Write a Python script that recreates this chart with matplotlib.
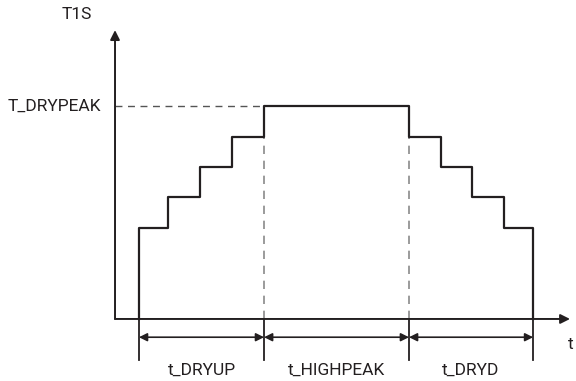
import matplotlib.pyplot as plt

# step profile of T1S over time
step_times = [0, 0, 0.92, 1.94, 2.95, 3.97, 8.57, 9.59, 10.57, 11.59, 12.51]
step_levels = [0, 3, 4, 5, 6, 7, 6, 5, 4, 3, 0]
peak_level = 7
phase_edges = [0, 3.97, 8.57, 12.51]
phase_labels = ['t_DRYUP', 't_HIGHPEAK', 't_DRYD']

ink = '#231f20'
plt.rcParams['font.family'] = ['Roboto', 'DejaVu Sans']

fig = plt.figure(figsize=(5.76, 3.81), dpi=100)
ax = fig.add_axes([0, 0, 1, 1])
ax.set_xlim(-4.41, 13.87)
ax.set_ylim(-2.04, 10.49)
ax.axis('off')

x0 = -0.76  # y axis position
# axes with arrow heads
ax.annotate('', xy=(x0, 9.5), xytext=(x0, 0), arrowprops=dict(arrowstyle='-|>', color=ink, lw=1.4,
            mutation_scale=14, shrinkA=0, shrinkB=0))
ax.annotate('', xy=(13.68, 0), xytext=(x0, 0), arrowprops=dict(arrowstyle='-|>', color=ink, lw=1.4,
            mutation_scale=14, shrinkA=0, shrinkB=0))

# guide lines
ax.plot([x0, phase_edges[1]], [peak_level, peak_level], color='#555555', lw=1.0, dashes=(5, 4))
for xe in phase_edges[1:3]:
    ax.plot([xe, xe], [0, 6], color='#8a8a8a', lw=1.2, dashes=(5, 4))

ax.plot(step_times, step_levels, drawstyle='steps-post', color=ink, lw=1.6)

# phase markers and double arrows
for xe in phase_edges:
    ax.plot([xe, xe], [0, -1.35], color=ink, lw=1.3)
for i, lab in enumerate(phase_labels):
    a, b = phase_edges[i], phase_edges[i + 1]
    ax.annotate('', xy=(b, -0.6), xytext=(a, -0.6), arrowprops=dict(arrowstyle='<|-|>', color=ink, lw=1.2,
                mutation_scale=12, shrinkA=0, shrinkB=0))
    ax.text((a + b) / 2, -1.68, lab, ha='center', va='center', fontsize=12.5, color=ink)

ax.text(x0 - 1.2, 10.0, 'T1S', ha='center', va='center', fontsize=12.5, color=ink)
ax.text(x0 - 0.45, peak_level, 'T_DRYPEAK', ha='right', va='center', fontsize=12.5, color=ink)
ax.text(13.71, -0.85, 't', ha='center', va='center', fontsize=12.5, color=ink)

fig.savefig('out.png', dpi=100)
